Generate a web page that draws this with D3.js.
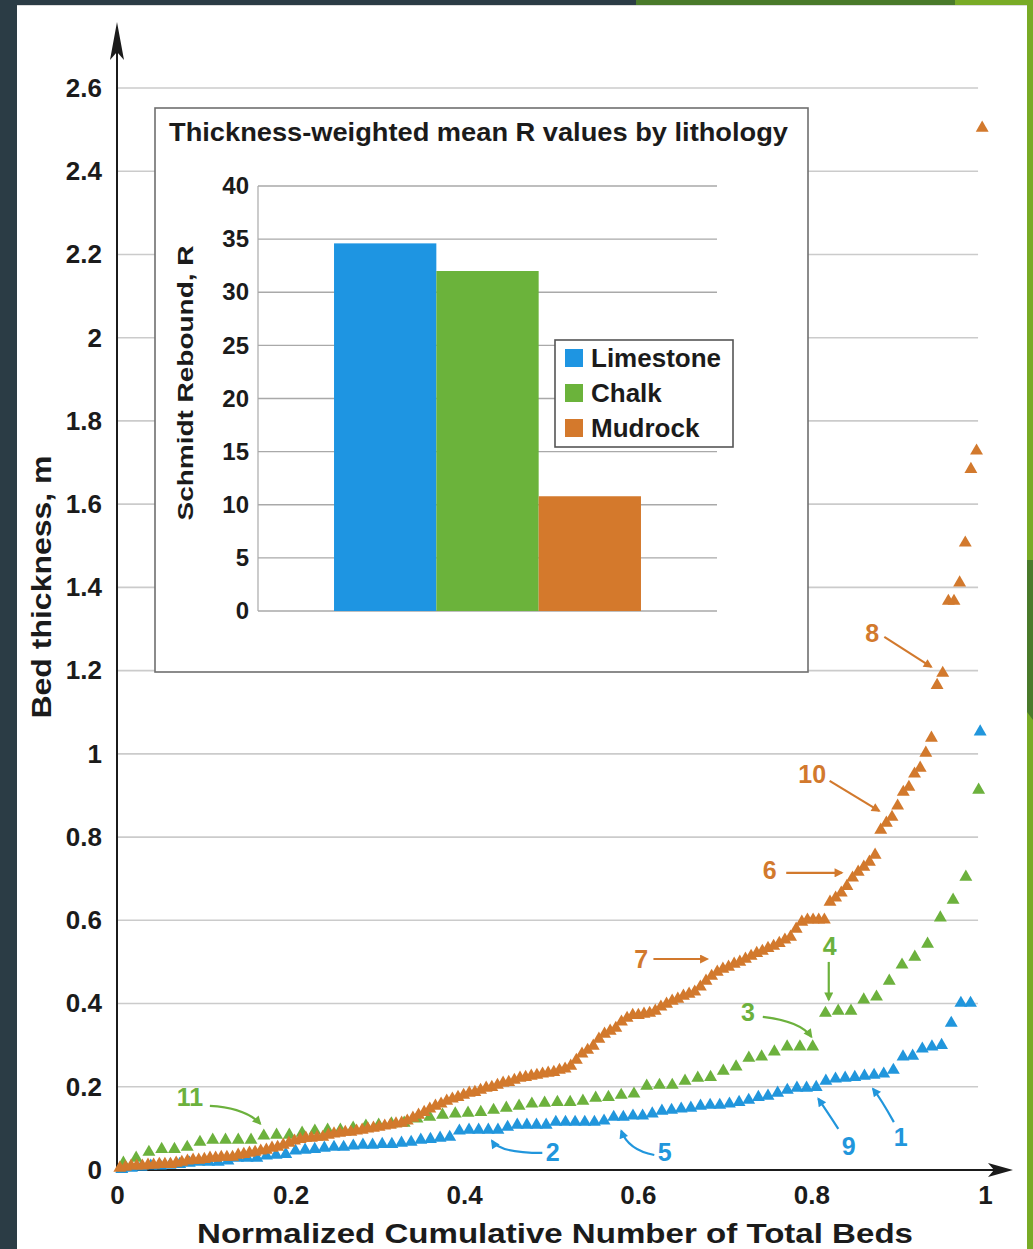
<!DOCTYPE html>
<html>
<head>
<meta charset="utf-8">
<script src="https://cdn.jsdelivr.net/npm/d3@7"></script>
<style>
  html, body { margin: 0; padding: 0; background: #ffffff; overflow: hidden; }
  svg { display: block; }
  text { font-family: "Liberation Sans", Arial, Helvetica, sans-serif; font-weight: bold; fill: #1b1b1b; }
</style>
</head>
<body>
<svg id="chart" width="1033" height="1249"></svg>
<script>
// ---- Bed thickness (m), sorted ascending, one value per bed ----
const mudrock = [
  0.005, 0.007, 0.010, 0.010, 0.010, 0.012, 0.012, 0.014, 0.014, 0.014,
  0.017, 0.019, 0.022, 0.024, 0.024, 0.026, 0.029, 0.029, 0.031, 0.031,
  0.031, 0.036, 0.038, 0.041, 0.043, 0.046, 0.048, 0.053, 0.055, 0.060,
  0.065, 0.070, 0.074, 0.077, 0.077, 0.079, 0.079, 0.084, 0.087, 0.089,
  0.091, 0.091, 0.094, 0.096, 0.099, 0.101, 0.103, 0.106, 0.108, 0.111,
  0.113, 0.118, 0.125, 0.132, 0.139, 0.147, 0.154, 0.159, 0.166, 0.171,
  0.175, 0.180, 0.185, 0.187, 0.192, 0.197, 0.199, 0.204, 0.209, 0.211,
  0.216, 0.221, 0.223, 0.226, 0.228, 0.231, 0.233, 0.235, 0.240, 0.243,
  0.250, 0.264, 0.279, 0.288, 0.298, 0.315, 0.327, 0.334, 0.341, 0.356,
  0.365, 0.372, 0.372, 0.375, 0.377, 0.382, 0.392, 0.399, 0.406, 0.411,
  0.418, 0.423, 0.428, 0.440, 0.454, 0.466, 0.476, 0.483, 0.488, 0.495,
  0.500, 0.507, 0.514, 0.521, 0.526, 0.533, 0.538, 0.545, 0.553, 0.560,
  0.579, 0.596, 0.601, 0.601, 0.601, 0.601, 0.644, 0.654, 0.666, 0.682,
  0.702, 0.716, 0.728, 0.740, 0.757, 0.817, 0.834, 0.848, 0.875, 0.908,
  0.920, 0.952, 0.966, 1.002, 1.038, 1.165, 1.194, 1.367, 1.367, 1.411,
  1.507, 1.684, 1.728, 2.504
];
const chalk = [
  0.017, 0.029, 0.043, 0.050, 0.050, 0.055, 0.067, 0.072, 0.072, 0.072,
  0.072, 0.082, 0.084, 0.084, 0.089, 0.094, 0.096, 0.096, 0.101, 0.106,
  0.108, 0.111, 0.113, 0.123, 0.127, 0.132, 0.135, 0.137, 0.139, 0.144,
  0.149, 0.154, 0.159, 0.161, 0.163, 0.163, 0.166, 0.173, 0.175, 0.180,
  0.183, 0.202, 0.204, 0.204, 0.214, 0.221, 0.223, 0.238, 0.248, 0.269,
  0.272, 0.284, 0.296, 0.296, 0.296, 0.377, 0.382, 0.382, 0.409, 0.416,
  0.454, 0.493, 0.512, 0.543, 0.606, 0.649, 0.704, 0.913
];
const limestone = [
  0.002, 0.005, 0.007, 0.010, 0.010, 0.012, 0.014, 0.017, 0.019, 0.019,
  0.019, 0.022, 0.029, 0.029, 0.029, 0.034, 0.036, 0.038, 0.046, 0.048,
  0.050, 0.053, 0.055, 0.055, 0.058, 0.060, 0.060, 0.062, 0.062, 0.065,
  0.067, 0.072, 0.074, 0.077, 0.079, 0.094, 0.096, 0.096, 0.096, 0.096,
  0.103, 0.108, 0.108, 0.108, 0.108, 0.115, 0.115, 0.115, 0.115, 0.115,
  0.118, 0.127, 0.127, 0.130, 0.130, 0.135, 0.142, 0.144, 0.147, 0.149,
  0.154, 0.156, 0.156, 0.159, 0.163, 0.168, 0.175, 0.178, 0.185, 0.192,
  0.197, 0.197, 0.199, 0.214, 0.219, 0.221, 0.223, 0.226, 0.228, 0.231,
  0.240, 0.272, 0.274, 0.291, 0.296, 0.300, 0.353, 0.401, 0.401, 1.053
];

// ---- Axis ticks ----
const yTicks = [0, 0.2, 0.4, 0.6, 0.8, 1, 1.2, 1.4, 1.6, 1.8, 2, 2.2, 2.4, 2.6];
const yTickLabels = ["0", "0.2", "0.4", "0.6", "0.8", "1", "1.2", "1.4", "1.6", "1.8", "2", "2.2", "2.4", "2.6"];
const xTicks = [0, 0.2, 0.4, 0.6, 0.8, 1];
const xTickLabels = ["0", "0.2", "0.4", "0.6", "0.8", "1"];

// ---- Inset: thickness-weighted mean Schmidt rebound ----
const lithologies = ["Limestone", "Chalk", "Mudrock"];
const meanR = [34.6, 32.0, 10.8];
const rTicks = [0, 5, 10, 15, 20, 25, 30, 35, 40];

// ---- Numbered callouts (data units): label, series, text anchor, arrow start / bend / tip ----
const callouts = [
  { label: "8",  series: "Mudrock",   text: [0.870, 1.290], from: [0.884, 1.281], bend: null,           to: [0.938, 1.209] },
  { label: "10", series: "Mudrock",   text: [0.801, 0.952], from: [0.821, 0.935], bend: null,           to: [0.878, 0.863] },
  { label: "6",  series: "Mudrock",   text: [0.752, 0.721], from: [0.771, 0.714], bend: null,           to: [0.835, 0.714] },
  { label: "7",  series: "Mudrock",   text: [0.604, 0.507], from: [0.618, 0.507], bend: null,           to: [0.680, 0.507] },
  { label: "4",  series: "Chalk",     text: [0.821, 0.538], from: [0.820, 0.500], bend: null,           to: [0.820, 0.409] },
  { label: "3",  series: "Chalk",     text: [0.727, 0.380], from: [0.744, 0.368], bend: [0.787, 0.358], to: [0.800, 0.320] },
  { label: "11", series: "Chalk",     text: [0.084, 0.175], from: [0.107, 0.154], bend: [0.148, 0.149], to: [0.165, 0.111] },
  { label: "2",  series: "Limestone", text: [0.502, 0.043], from: [0.490, 0.041], bend: [0.441, 0.041], to: [0.432, 0.070] },
  { label: "5",  series: "Limestone", text: [0.631, 0.043], from: [0.619, 0.036], bend: [0.589, 0.048], to: [0.581, 0.094] },
  { label: "9",  series: "Limestone", text: [0.843, 0.058], from: [0.831, 0.099], bend: [0.817, 0.144], to: [0.808, 0.171] },
  { label: "1",  series: "Limestone", text: [0.903, 0.079], from: [0.895, 0.115], bend: [0.881, 0.168], to: [0.871, 0.195] }
];

const colors = { Limestone: "#2196dc", Chalk: "#6cb13d", Mudrock: "#d2792d" };
const barColors = { Limestone: "#1e95e2", Chalk: "#6bb33b", Mudrock: "#d4792c" };

const W = 1033, H = 1249;
const svg = d3.select("#chart");

// ---- slide frame ----
svg.append("rect").attr("width", W).attr("height", H).attr("fill", "#ffffff");
svg.append("rect").attr("x", 0).attr("y", 0).attr("width", 17).attr("height", H).attr("fill", "#2b3c45");
svg.append("rect").attr("x", 0).attr("y", 0).attr("width", 636).attr("height", 5).attr("fill", "#2b3c45");
svg.append("rect").attr("x", 636).attr("y", 0).attr("width", 320).attr("height", 5).attr("fill", "#4a7a2a");
svg.append("rect").attr("x", 955).attr("y", 0).attr("width", 78).attr("height", 5).attr("fill", "#79ab26");
svg.append("rect").attr("x", 1027).attr("y", 0).attr("width", 6).attr("height", H).attr("fill", "#79ab26");
svg.append("path").attr("d", "M1027,560 L1033,560 L1033,720 L1027,712 Z").attr("fill", "#4a7a2a");
svg.append("line").attr("x1", 17).attr("x2", 1027).attr("y1", 5.5).attr("y2", 5.5)
  .attr("stroke", "#dcdcdc").attr("stroke-width", 1);

// ---- main scales ----
const x = d3.scaleLinear().domain([0, 1]).range([117, 985]);
const y = d3.scaleLinear().domain([0, 2.6]).range([1170, 88]);

// gridlines
svg.append("g").selectAll("line")
  .data(yTicks.filter(v => v > 0))
  .join("line")
  .attr("x1", x(0)).attr("x2", x(0.992))
  .attr("y1", d => y(d)).attr("y2", d => y(d))
  .attr("stroke", "#cbcbcb").attr("stroke-width", 1.6);

// tick labels
const yAxis = svg.append("g").attr("transform", `translate(${x(0)},0)`)
  .call(d3.axisLeft(y).tickValues(yTicks).tickFormat((d, i) => yTickLabels[i]).tickSize(0).tickPadding(15));
yAxis.select(".domain").remove();
yAxis.selectAll("text").attr("font-size", 26).attr("fill", "#1b1b1b");
yAxis.attr("font-family", null).attr("font-size", null);

const xAxis = svg.append("g").attr("transform", `translate(0,${y(0)})`)
  .call(d3.axisBottom(x).tickValues(xTicks).tickFormat((d, i) => xTickLabels[i]).tickSize(0).tickPadding(16));
xAxis.select(".domain").remove();
xAxis.selectAll("text").attr("font-size", 26).attr("fill", "#1b1b1b");
xAxis.attr("font-family", null).attr("font-size", null);

// axis lines with arrowheads
const axisG = svg.append("g").attr("fill", "#1b1b1b").attr("stroke", "#1b1b1b");
axisG.append("line").attr("x1", x(0)).attr("x2", x(0)).attr("y1", y(0)).attr("y2", 45).attr("stroke-width", 2);
axisG.append("path").attr("stroke", "none")
  .attr("d", `M${x(0)},22 L${x(0) + 7},60 L${x(0)},52 L${x(0) - 7},60 Z`);
axisG.append("line").attr("x1", x(0)).attr("x2", 1000).attr("y1", y(0)).attr("y2", y(0)).attr("stroke-width", 2);
axisG.append("path").attr("stroke", "none")
  .attr("d", `M1013,${y(0)} L988,${y(0) - 7} L994,${y(0)} L988,${y(0) + 7} Z`);

// ---- bed series (normalized cumulative rank vs thickness) ----
const tri = d3.symbol(d3.symbolTriangle, 72);
const seriesList = [
  { name: "Limestone", values: limestone },
  { name: "Chalk", values: chalk },
  { name: "Mudrock", values: mudrock }
];
seriesList.forEach(s => {
  const n = s.values.length;
  svg.append("g").attr("fill", colors[s.name])
    .selectAll("path")
    .data(s.values)
    .join("path")
    .attr("d", tri)
    .attr("transform", (v, i) => `translate(${x((i + 0.5) / n)},${y(v)})`);
});

// ---- callouts ----
const defs = svg.append("defs");
Object.entries(colors).forEach(([name, c]) => {
  defs.append("marker")
    .attr("id", "head-" + name)
    .attr("viewBox", "0 0 10 10")
    .attr("refX", 8).attr("refY", 5)
    .attr("markerWidth", 12).attr("markerHeight", 9)
    .attr("markerUnits", "userSpaceOnUse")
    .attr("orient", "auto")
    .append("path").attr("d", "M0,0 L10,5 L0,10 Z").attr("fill", c);
});
const calloutG = svg.append("g");
callouts.forEach(c => {
  const p0 = [x(c.from[0]), y(c.from[1])];
  const p1 = [x(c.to[0]), y(c.to[1])];
  let d;
  if (c.bend) {
    const b = [x(c.bend[0]), y(c.bend[1])];
    d = `M${p0[0]},${p0[1]} Q${b[0]},${b[1]} ${p1[0]},${p1[1]}`;
  } else {
    d = `M${p0[0]},${p0[1]} L${p1[0]},${p1[1]}`;
  }
  calloutG.append("path").attr("d", d)
    .attr("fill", "none").attr("stroke", colors[c.series]).attr("stroke-width", 2.2)
    .attr("marker-end", `url(#head-${c.series})`);
  calloutG.append("text")
    .attr("x", x(c.text[0])).attr("y", y(c.text[1]))
    .attr("dy", "0.36em").attr("text-anchor", "middle")
    .attr("font-size", 25)
    .style("fill", colors[c.series])
    .text(c.label);
});

// ---- inset bar chart ----
const inset = svg.append("g");
inset.append("rect").attr("x", 155).attr("y", 108).attr("width", 653).attr("height", 564)
  .attr("fill", "#ffffff").attr("stroke", "#6f6f6f").attr("stroke-width", 1.6);
inset.append("text")
  .attr("x", 478.5).attr("y", 141).attr("text-anchor", "middle")
  .attr("font-size", 25).attr("textLength", 619).attr("lengthAdjust", "spacingAndGlyphs")
  .text("Thickness-weighted mean R values by lithology");

const rY = d3.scaleLinear().domain([0, 40]).range([611, 186]);
const bx = d3.scaleBand().domain(lithologies).range([258, 717]).paddingInner(0).paddingOuter(0.743);

inset.append("g").selectAll("line")
  .data(rTicks)
  .join("line")
  .attr("x1", 258).attr("x2", 717)
  .attr("y1", d => rY(d)).attr("y2", d => rY(d))
  .attr("stroke", "#a9a9a9").attr("stroke-width", 1.4);
inset.append("line").attr("x1", 258).attr("x2", 258).attr("y1", rY(40)).attr("y2", rY(0))
  .attr("stroke", "#a9a9a9").attr("stroke-width", 1.2);

const rAxis = inset.append("g").attr("transform", "translate(258,0)")
  .call(d3.axisLeft(rY).tickValues(rTicks).tickSize(0).tickPadding(9).tickFormat(d3.format("d")));
rAxis.select(".domain").remove();
rAxis.selectAll("text").attr("font-size", 24).attr("fill", "#1b1b1b");
rAxis.attr("font-family", null).attr("font-size", null);

inset.append("g").selectAll("rect")
  .data(lithologies)
  .join("rect")
  .attr("x", d => bx(d))
  .attr("width", bx.bandwidth())
  .attr("y", (d, i) => rY(meanR[i]))
  .attr("height", (d, i) => rY(0) - rY(meanR[i]))
  .attr("fill", d => barColors[d]);

inset.append("text")
  .attr("transform", "translate(193,383) rotate(-90)")
  .attr("text-anchor", "middle")
  .attr("font-size", 22).attr("textLength", 275).attr("lengthAdjust", "spacingAndGlyphs")
  .text("Schmidt Rebound, R");

// legend
const legend = inset.append("g");
legend.append("rect").attr("x", 555).attr("y", 340).attr("width", 178).attr("height", 107)
  .attr("fill", "#ffffff").attr("stroke", "#555555").attr("stroke-width", 1.6);
const rowY = d3.scalePoint().domain(lithologies).range([358, 428]);
legend.selectAll("rect.sw")
  .data(lithologies)
  .join("rect")
  .attr("class", "sw")
  .attr("x", 565).attr("y", d => rowY(d) - 9)
  .attr("width", 18).attr("height", 18)
  .attr("fill", d => barColors[d]);
legend.selectAll("text")
  .data(lithologies)
  .join("text")
  .attr("x", 591).attr("y", d => rowY(d))
  .attr("dy", "0.36em")
  .attr("font-size", 26)
  .text(d => d);

// ---- main axis titles ----
svg.append("text")
  .attr("transform", "translate(51,587) rotate(-90)")
  .attr("text-anchor", "middle")
  .attr("font-size", 28).attr("textLength", 263).attr("lengthAdjust", "spacingAndGlyphs")
  .text("Bed thickness, m");
svg.append("text")
  .attr("x", 555).attr("y", 1243)
  .attr("text-anchor", "middle")
  .attr("font-size", 28).attr("textLength", 716).attr("lengthAdjust", "spacingAndGlyphs")
  .text("Normalized Cumulative Number of Total Beds");
</script>
</body>
</html>
